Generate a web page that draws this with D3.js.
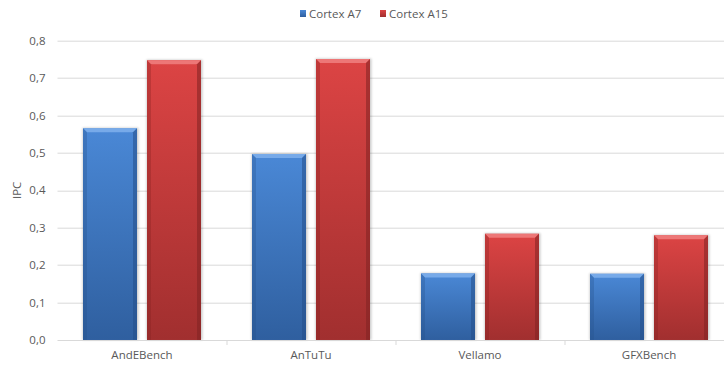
<!DOCTYPE html>
<html>
<head>
<meta charset="utf-8">
<script src="https://cdn.jsdelivr.net/npm/d3@7"></script>
<style>
  body { margin: 0; background: #fff; }
  svg text { font-family: "Open Sans", "DejaVu Sans", sans-serif; fill: #595959; }
</style>
</head>
<body>
<svg id="chart" width="724" height="365"></svg>
<script>
  var categories = ["AndEBench", "AnTuTu", "Vellamo", "GFXBench"];
  var seriesNames = ["Cortex A7", "Cortex A15"];
  var cortexA7 = [0.566, 0.497, 0.178, 0.177];
  var cortexA15 = [0.748, 0.751, 0.284, 0.280];
  var yTicks = [0, 0.1, 0.2, 0.3, 0.4, 0.5, 0.6, 0.7, 0.8];

  var palette = {
    "Cortex A7": { top: "#4a88d6", bottom: "#2f5f9f", light: "#7fb0ec", edge: "#244f88" },
    "Cortex A15": { top: "#dc4444", bottom: "#a12f2f", light: "#f08080", edge: "#802222" }
  };

  var svg = d3.select("#chart");
  var margin = { left: 57.5, top: 40.7, right: -9.5, bottom: 25 };
  var width = 724 - margin.left - margin.right;
  var height = 340 - margin.top;

  var defs = svg.append("defs");
  seriesNames.forEach(function(name, i) {
    var g = defs.append("linearGradient")
      .attr("id", "grad" + i)
      .attr("x1", 0).attr("y1", 0).attr("x2", 0).attr("y2", 1);
    g.append("stop").attr("offset", "0%").attr("stop-color", palette[name].top);
    g.append("stop").attr("offset", "100%").attr("stop-color", palette[name].bottom);
  });
  var blur = defs.append("filter").attr("id", "shadow")
    .attr("x", "-20%").attr("y", "-10%").attr("width", "140%").attr("height", "120%");
  blur.append("feGaussianBlur").attr("stdDeviation", 1.2);

  var g = svg.append("g")
    .attr("transform", "translate(" + margin.left + "," + margin.top + ")");

  var x0 = d3.scaleBand().domain(categories).range([0, width]);
  var x1 = d3.scaleBand().domain(seriesNames)
    .range([25.5, x0.bandwidth() - 25.5]).paddingInner(0.156);
  var y = d3.scaleLinear().domain([0, 0.8]).range([height, 0]);

  // gridlines
  g.selectAll(".grid").data(yTicks.slice(1)).enter()
    .append("line")
    .attr("x1", 0).attr("x2", width)
    .attr("y1", function(d) { return Math.round(y(d)) + 0.5; })
    .attr("y2", function(d) { return Math.round(y(d)) + 0.5; })
    .attr("stroke", "#d9d9d9").attr("stroke-width", 1);

  // y tick labels
  g.selectAll(".ylab").data(yTicks).enter()
    .append("text")
    .attr("x", -12).attr("y", function(d) { return y(d); })
    .attr("dy", "0.35em").attr("text-anchor", "end")
    .style("font-size", "11.5px")
    .text(function(d) { return d.toFixed(1).replace(".", ","); });

  // y axis title
  svg.append("text")
    .attr("transform", "translate(21," + (margin.top + height / 2) + ") rotate(-90)")
    .attr("text-anchor", "middle")
    .style("font-size", "11.5px")
    .text("IPC");

  // bars
  var rows = categories.map(function(c, i) {
    return [
      { cat: c, name: seriesNames[0], idx: 0, value: cortexA7[i] },
      { cat: c, name: seriesNames[1], idx: 1, value: cortexA15[i] }
    ];
  });

  var catGroups = g.selectAll(".cat").data(rows).enter()
    .append("g")
    .attr("transform", function(d, i) { return "translate(" + x0(categories[i]) + ",0)"; });

  var bars = catGroups.selectAll(".bar").data(function(d) { return d; }).enter()
    .append("g").attr("class", "bar");

  bars.append("rect")
    .attr("x", function(d) { return x1(d.name) - 0.5; })
    .attr("y", function(d) { return y(d.value) - 0.5; })
    .attr("width", x1.bandwidth() + 2)
    .attr("height", function(d) { return height - y(d.value) + 0.5; })
    .attr("fill", "#000").attr("opacity", 0.2)
    .attr("filter", "url(#shadow)");

  bars.append("rect")
    .attr("x", function(d) { return x1(d.name); })
    .attr("y", function(d) { return y(d.value); })
    .attr("width", x1.bandwidth())
    .attr("height", function(d) { return height - y(d.value); })
    .attr("fill", function(d) { return "url(#grad" + d.idx + ")"; });

  // bevel: top light strip
  var bev = 4;
  bars.append("path")
    .attr("d", function(d) {
      var l = x1(d.name), r = l + x1.bandwidth(), t = y(d.value);
      return "M" + l + "," + t + "L" + r + "," + t + "L" + (r - bev) + "," + (t + bev) +
        "L" + (l + bev) + "," + (t + bev) + "Z";
    })
    .attr("fill", function(d) { return palette[d.name].light; })
    .attr("opacity", 0.85);

  // bevel: side darker strips
  bars.append("path")
    .attr("d", function(d) {
      var l = x1(d.name), t = y(d.value);
      return "M" + l + "," + t + "L" + (l + bev) + "," + (t + bev) + "L" + (l + bev) + "," + height +
        "L" + l + "," + height + "Z";
    })
    .attr("fill", function(d) { return palette[d.name].edge; })
    .attr("opacity", 0.3);
  bars.append("path")
    .attr("d", function(d) {
      var r = x1(d.name) + x1.bandwidth(), t = y(d.value);
      return "M" + r + "," + t + "L" + (r - bev) + "," + (t + bev) + "L" + (r - bev) + "," + height +
        "L" + r + "," + height + "Z";
    })
    .attr("fill", function(d) { return palette[d.name].edge; })
    .attr("opacity", 0.55);

  // x axis baseline and tick marks
  g.append("line")
    .attr("x1", 0).attr("x2", width)
    .attr("y1", height + 0.5).attr("y2", height + 0.5)
    .attr("stroke", "#d9d9d9");
  g.selectAll(".xtick").data(categories.slice(1)).enter()
    .append("line")
    .attr("x1", function(d) { return Math.round(x0(d)) + 0.5; })
    .attr("x2", function(d) { return Math.round(x0(d)) + 0.5; })
    .attr("y1", height).attr("y2", height + 5)
    .attr("stroke", "#d9d9d9");

  g.selectAll(".xlab").data(categories).enter()
    .append("text")
    .attr("x", function(d) { return x0(d) + x0.bandwidth() / 2; })
    .attr("y", height + 19)
    .attr("text-anchor", "middle")
    .style("font-size", "11.5px")
    .text(function(d) { return d; });

  // legend
  var legendX = [300, 380];
  var legend = svg.selectAll(".legend").data(seriesNames).enter()
    .append("g")
    .attr("transform", function(d, i) { return "translate(" + legendX[i] + ",10)"; });
  legend.append("rect")
    .attr("width", 6).attr("height", 7)
    .attr("fill", function(d, i) { return "url(#grad" + i + ")"; });
  legend.append("text")
    .attr("x", 9).attr("y", 3.5).attr("dy", "0.35em")
    .style("font-size", "11.5px")
    .text(function(d) { return d; });
</script>
</body>
</html>
